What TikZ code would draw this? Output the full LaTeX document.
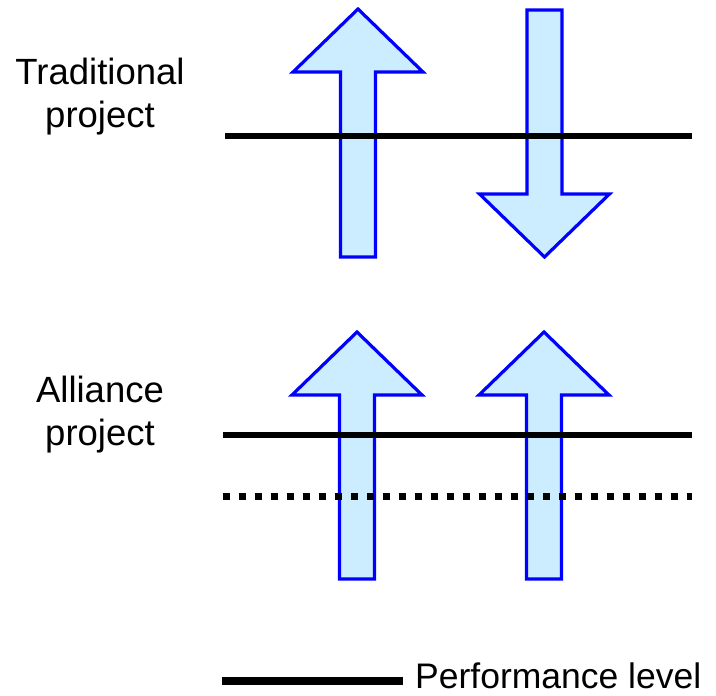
\documentclass[tikz,border=0pt]{standalone}
\usepackage{fontspec}
\setmainfont{Liberation Sans}
\definecolor{arrowfill}{HTML}{CCECFF}
\definecolor{arrowedge}{HTML}{0000FF}
\tikzset{
  bigarrow/.style={draw=arrowedge, fill=arrowfill, line width=3.2pt, line join=miter},
  level/.style={draw=black, line width=6.5pt},
  lowlevel/.style={draw=black, line width=7pt, dash pattern=on 7pt off 9pt},
  textfont/.style={inner sep=0pt, font=\fontsize{36.5}{42.5}\selectfont},
  label/.style={textfont, align=center}
}
% up arrow: centre x, tip y, head base y, bottom y
\newcommand{\uparrowshape}[4]{%
  \path[bigarrow] (#1,#2) -- (#1+65,#3) -- (#1+17.5,#3) -- (#1+17.5,#4)
    -- (#1-17.5,#4) -- (#1-17.5,#3) -- (#1-65,#3) -- cycle;}
% down arrow: centre x, top y, head base y, tip y
\newcommand{\downarrowshape}[4]{%
  \path[bigarrow] (#1,#4) -- (#1+65,#3) -- (#1+17.5,#3) -- (#1+17.5,#2)
    -- (#1-17.5,#2) -- (#1-17.5,#3) -- (#1-65,#3) -- cycle;}
\begin{document}
\begin{tikzpicture}[x=1pt,y=-1pt]
\useasboundingbox (0,0) rectangle (716,696);

% traditional project
\uparrowshape{358}{9}{72}{257}
\downarrowshape{544.5}{10}{194}{257}
\coordinate (t1) at (225,136);
\coordinate (t2) at (692,136);
\draw[level] (t1) -- (t2);
\node[label, anchor=base] (trad) at (100,127) {Traditional\\project};

% alliance project
\uparrowshape{357}{332}{395}{579}
\uparrowshape{544}{332}{395}{579}
\coordinate (a1) at (223,435);
\coordinate (a2) at (692,435);
\draw[level] (a1) -- (a2);
\coordinate (d1) at (223,496);
\coordinate (d2) at (692,496);
\draw[lowlevel] (d1) -- (d2);
\node[label, anchor=base] (alli) at (100,445) {Alliance\\project};

% legend
\node[inner sep=0pt, font=\fontsize{35.5}{41}\selectfont, anchor=base west] (perf) at (415,688) {Performance level};
\coordinate (l1) at (222,681);
\coordinate (l2) at ([xshift=-12pt]perf.west |- l1);
\draw[level, line width=7.5pt] (l1) -- (l2);
\end{tikzpicture}
\end{document}
